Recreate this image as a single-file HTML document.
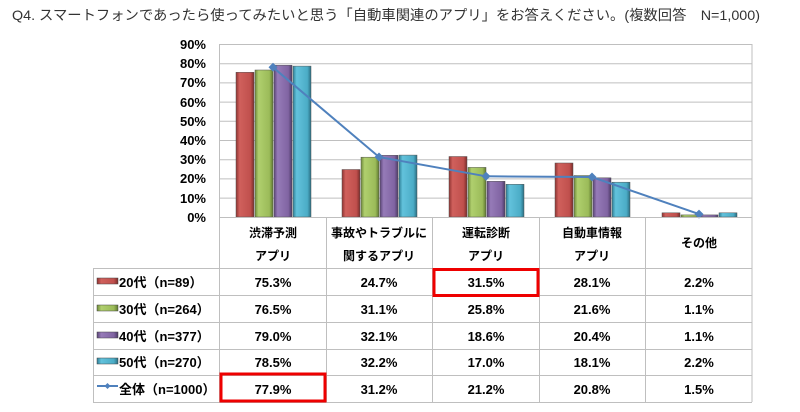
<!DOCTYPE html>
<html><head><meta charset="utf-8"><style>
body{margin:0;background:#fff;width:800px;height:412px;overflow:hidden;font-family:"Liberation Sans","Noto Sans CJK JP",sans-serif}
svg{position:absolute;left:0;top:0}
</style></head><body>
<svg width="800" height="412" viewBox="0 0 800 412" font-family="Liberation Sans, Noto Sans CJK JP, sans-serif">
<defs>
<linearGradient id="r" x1="0" x2="1"><stop offset="0" stop-color="#8e3331"/><stop offset=".2" stop-color="#d0605c"/><stop offset=".8" stop-color="#c0504d"/><stop offset="1" stop-color="#7a2c2a"/></linearGradient>
<linearGradient id="g" x1="0" x2="1"><stop offset="0" stop-color="#6f8a3a"/><stop offset=".2" stop-color="#b0cf6e"/><stop offset=".8" stop-color="#9bbb59"/><stop offset="1" stop-color="#5f7830"/></linearGradient>
<linearGradient id="p" x1="0" x2="1"><stop offset="0" stop-color="#5a4477"/><stop offset=".2" stop-color="#967bb8"/><stop offset=".8" stop-color="#8064a2"/><stop offset="1" stop-color="#4d3a66"/></linearGradient>
<linearGradient id="c" x1="0" x2="1"><stop offset="0" stop-color="#2f7f96"/><stop offset=".2" stop-color="#62c2dc"/><stop offset=".8" stop-color="#4bacc6"/><stop offset="1" stop-color="#2a6f83"/></linearGradient>
</defs>
<text x="12" y="20" font-size="14" fill="#333" textLength="748" lengthAdjust="spacingAndGlyphs">Q4. スマートフォンであったら使ってみたいと思う「自動車関連のアプリ」をお答えください。(複数回答　N=1,000)</text>
<g stroke="#bfbfbf" stroke-width="1">
<line x1="220" y1="44.5" x2="752" y2="44.5"/><line x1="220" y1="63.7" x2="752" y2="63.7"/><line x1="220" y1="82.9" x2="752" y2="82.9"/><line x1="220" y1="102.1" x2="752" y2="102.1"/><line x1="220" y1="121.3" x2="752" y2="121.3"/><line x1="220" y1="140.5" x2="752" y2="140.5"/><line x1="220" y1="159.7" x2="752" y2="159.7"/><line x1="220" y1="178.9" x2="752" y2="178.9"/><line x1="220" y1="198.1" x2="752" y2="198.1"/>
<line x1="219.5" y1="44" x2="219.5" y2="402"/><line x1="752" y1="44" x2="752" y2="402"/>
</g>
<g font-size="13" font-weight="bold" text-anchor="end" fill="#000">
<text x="206" y="49">90%</text><text x="206" y="68">80%</text><text x="206" y="87">70%</text><text x="206" y="107">60%</text><text x="206" y="126">50%</text><text x="206" y="145">40%</text><text x="206" y="164">30%</text><text x="206" y="183">20%</text><text x="206" y="203">10%</text><text x="206" y="222">0%</text>
</g>
<g stroke="#555" stroke-width=".5">
<rect x="236" y="72.3" width="18" height="144.7" fill="url(#r)"/><rect x="255" y="70" width="18" height="147" fill="url(#g)"/><rect x="274" y="65.2" width="18" height="151.8" fill="url(#p)"/><rect x="293" y="66.1" width="18" height="150.9" fill="url(#c)"/>
<rect x="342" y="169.5" width="18" height="47.5" fill="url(#r)"/><rect x="361" y="157.2" width="18" height="59.8" fill="url(#g)"/><rect x="380" y="155.3" width="18" height="61.7" fill="url(#p)"/><rect x="399" y="155.1" width="18" height="61.9" fill="url(#c)"/>
<rect x="449" y="156.5" width="18" height="60.5" fill="url(#r)"/><rect x="468" y="167.4" width="18" height="49.6" fill="url(#g)"/><rect x="487" y="181.3" width="18" height="35.7" fill="url(#p)"/><rect x="506" y="184.3" width="18" height="32.7" fill="url(#c)"/>
<rect x="555" y="163" width="18" height="54" fill="url(#r)"/><rect x="574" y="175.5" width="18" height="41.5" fill="url(#g)"/><rect x="593" y="177.8" width="18" height="39.2" fill="url(#p)"/><rect x="612" y="182.2" width="18" height="34.8" fill="url(#c)"/>
<rect x="662" y="212.8" width="18" height="4.2" fill="url(#r)"/><rect x="681" y="214.9" width="18" height="2.1" fill="url(#g)"/><rect x="700" y="214.9" width="18" height="2.1" fill="url(#p)"/><rect x="719" y="212.8" width="18" height="4.2" fill="url(#c)"/>
</g>
<polyline points="273,67.3 379,157 486,176.3 592,177 699,214.1" fill="none" stroke="#4f81bd" stroke-width="2"/>
<g fill="#4f81bd">
<path d="M273 62.8l4.5 4.5-4.5 4.5-4.5-4.5z"/><path d="M379 152.5l4.5 4.5-4.5 4.5-4.5-4.5z"/><path d="M486 171.8l4.5 4.5-4.5 4.5-4.5-4.5z"/><path d="M592 172.5l4.5 4.5-4.5 4.5-4.5-4.5z"/><path d="M699 209.6l4.5 4.5-4.5 4.5-4.5-4.5z"/>
</g>
<g stroke="#bfbfbf" stroke-width="1" fill="none">
<line x1="219" y1="217.5" x2="752" y2="217.5"/>
<line x1="93" y1="268.5" x2="752" y2="268.5"/><line x1="93" y1="295.5" x2="752" y2="295.5"/><line x1="93" y1="322.5" x2="752" y2="322.5"/><line x1="93" y1="349.5" x2="752" y2="349.5"/><line x1="93" y1="375.5" x2="752" y2="375.5"/><line x1="93" y1="402.5" x2="752" y2="402.5"/>
<line x1="93.5" y1="268" x2="93.5" y2="402"/>
<line x1="326.5" y1="217" x2="326.5" y2="402"/><line x1="432.5" y1="217" x2="432.5" y2="402"/><line x1="539.5" y1="217" x2="539.5" y2="402"/><line x1="645.5" y1="217" x2="645.5" y2="402"/>
</g>
<g font-size="12" text-anchor="middle" fill="#000" font-weight="bold">
<text x="273" y="237">渋滞予測</text><text x="273" y="260">アプリ</text>
<text x="379" y="237">事故やトラブルに</text><text x="379" y="260">関するアプリ</text>
<text x="486" y="237">運転診断</text><text x="486" y="260">アプリ</text>
<text x="592" y="237">自動車情報</text><text x="592" y="260">アプリ</text>
<text x="699" y="247">その他</text>
</g>
<g font-size="13" text-anchor="middle" fill="#000" font-weight="bold">
<text x="273" y="287">75.3%</text><text x="379" y="287">24.7%</text><text x="486" y="287">31.5%</text><text x="592" y="287">28.1%</text><text x="699" y="287">2.2%</text>
<text x="273" y="314">76.5%</text><text x="379" y="314">31.1%</text><text x="486" y="314">25.8%</text><text x="592" y="314">21.6%</text><text x="699" y="314">1.1%</text>
<text x="273" y="341">79.0%</text><text x="379" y="341">32.1%</text><text x="486" y="341">18.6%</text><text x="592" y="341">20.4%</text><text x="699" y="341">1.1%</text>
<text x="273" y="367">78.5%</text><text x="379" y="367">32.2%</text><text x="486" y="367">17.0%</text><text x="592" y="367">18.1%</text><text x="699" y="367">2.2%</text>
<text x="273" y="394">77.9%</text><text x="379" y="394">31.2%</text><text x="486" y="394">21.2%</text><text x="592" y="394">20.8%</text><text x="699" y="394">1.5%</text>
</g>
<g stroke="#444" stroke-width=".5">
<rect x="97" y="278" width="21" height="6" fill="url(#r)"/><rect x="97" y="305" width="21" height="6" fill="url(#g)"/><rect x="97" y="332" width="21" height="6" fill="url(#p)"/><rect x="97" y="358" width="21" height="6" fill="url(#c)"/>
</g>
<line x1="97" y1="386" x2="118" y2="386" stroke="#4f81bd" stroke-width="2"/><path d="M107.5 383l3 3-3 3-3-3z" fill="#4f81bd"/>
<g font-size="13" fill="#000" font-weight="bold">
<text x="119" y="287">20代（n=89）</text><text x="119" y="314">30代（n=264）</text><text x="119" y="341">40代（n=377）</text><text x="119" y="367">50代（n=270）</text><text x="119" y="394">全体（n=1000）</text>
</g>
<rect x="434" y="269.5" width="104" height="26" fill="none" stroke="#e00" stroke-width="3"/>
<rect x="221" y="374" width="104" height="27" fill="none" stroke="#e00" stroke-width="3"/>
</svg>
</body></html>
